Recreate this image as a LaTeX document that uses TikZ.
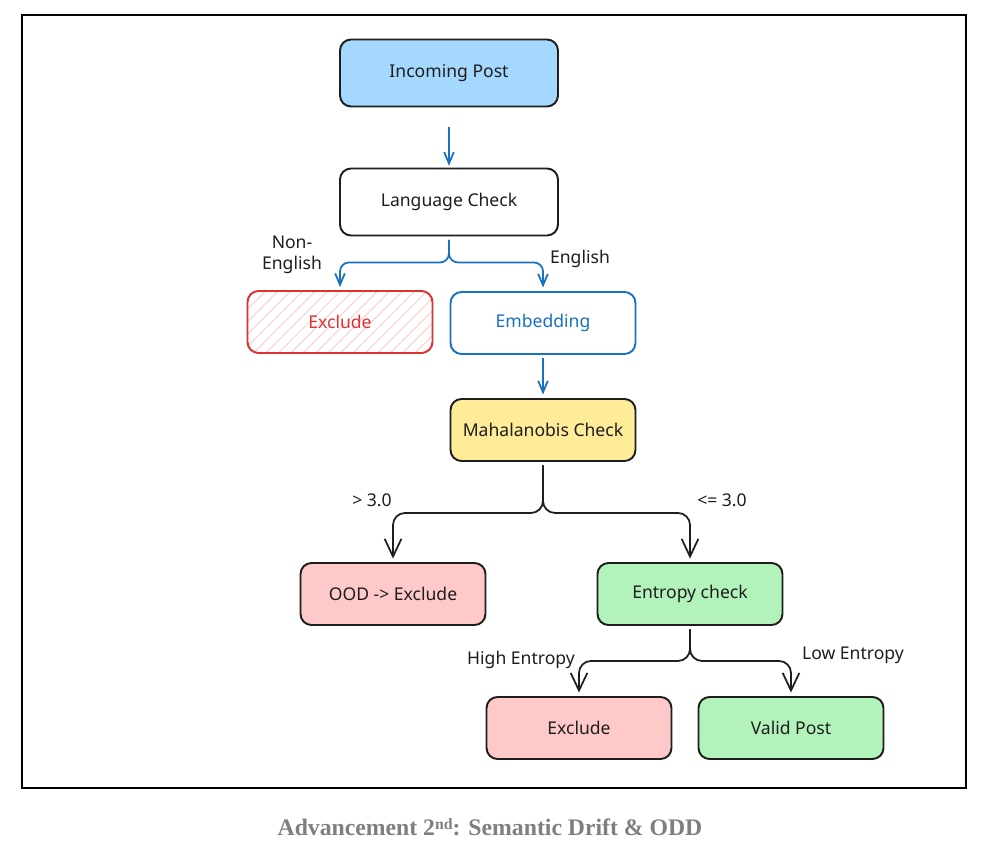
\documentclass[tikz,border=0pt]{standalone}
\usepackage{fontspec}
\setmainfont{Liberation Serif}
\newfontfamily\handfont{Noto Sans}
\usetikzlibrary{arrows.meta,patterns.meta}

\definecolor{ink}{HTML}{1E1E1E}
\definecolor{flowblue}{HTML}{1971C2}
\definecolor{alertred}{HTML}{E03131}
\definecolor{skyfill}{HTML}{A5D8FF}
\definecolor{sunfill}{HTML}{FFEC99}
\definecolor{rosefill}{HTML}{FFC9C9}
\definecolor{mintfill}{HTML}{B2F2BB}
\definecolor{captiongray}{HTML}{7F7F7F}

\begin{document}
\begin{tikzpicture}[x=0.02cm,y=-0.02cm,
  box/.style={draw=ink, line width=1.1pt, rounded corners=0.22cm,
    minimum width=3.7cm, minimum height=1.24cm, text=ink,
    font=\handfont\fontsize{10}{12}\selectfont},
  widebox/.style={box, minimum width=4.36cm, minimum height=1.34cm},
  link/.style={draw=ink, line width=1pt, rounded corners=0.24cm,
    -{Straight Barb[length=10pt,width=9.5pt]}, shorten >=2pt, shorten <=2pt},
  bluelink/.style={link, draw=flowblue, rounded corners=0.18cm,
    -{Straight Barb[length=6.5pt,width=5.5pt]}},
  tag/.style={text=ink, align=center, inner sep=1pt,
    font=\handfont\fontsize{10}{12}\selectfont}]
\fill[white] (0,0) rectangle (988,855);
\useasboundingbox (0,0) rectangle (988,855);
% frame
\draw[line width=0.6pt] (22,15) rectangle (966,788);

% nodes
\node[widebox, fill=skyfill] (inc) at (449,73) {Incoming Post};
\node[widebox, fill=white] (lang) at (449,202) {Language Check};
\node[box, draw=alertred, text=alertred,
  pattern={Lines[angle=45,distance=5pt,line width=0.5pt]}, pattern color=rosefill] (drop) at (340,322) {Exclude};
\node[box, draw=flowblue, text=flowblue] (embed) at (543,323) {Embedding};
\node[box, fill=sunfill] (maha) at (543,430) {Mahalanobis Check};
\node[box, fill=rosefill] (ood) at (393,594) {OOD -> Exclude};
\node[box, fill=mintfill] (ent) at (690,594) {Entropy check};
\node[box, fill=rosefill] (drophi) at (579,728) {Exclude};
\node[box, fill=mintfill] (valid) at (791,728) {Valid Post};

% connectors
\draw[bluelink, shorten <=0.4cm, shorten >=1pt] (inc) -- (lang);
\draw[bluelink] (lang.south) -- ++(0,26) -| (drop.north);
\draw[bluelink] (lang.south) -- ++(0,26) -| (embed.north);
\draw[bluelink] (embed) -- (maha);
\draw[link] (maha.south) -- ++(0,51) -| (ood.north);
\draw[link] (maha.south) -- ++(0,51) -| (ent.north);
\draw[link] (ent.south) -- ++(0,35) -| (drophi.north);
\draw[link] (ent.south) -- ++(0,35) -| (valid.north);

% branch labels
\node[tag] (nonen) at (292,255) {Non-\\English};
\node[tag] (en) at (580,259) {English};
\node[tag] (hi3) at (372,500) {> 3.0};
\node[tag] (lo3) at (722,500) {<= 3.0};
\node[tag] (hient) at (521,660) {High Entropy};
\node[tag] (loent) at (853,655) {Low Entropy};

% caption
\node[text=captiongray, font=\bfseries\fontsize{13.5}{16}\selectfont] (cap) at (490,827)
  {Advancement 2\raisebox{0.55ex}{\fontsize{9}{9}\selectfont nd}: Semantic Drift \& ODD};
\end{tikzpicture}
\end{document}
